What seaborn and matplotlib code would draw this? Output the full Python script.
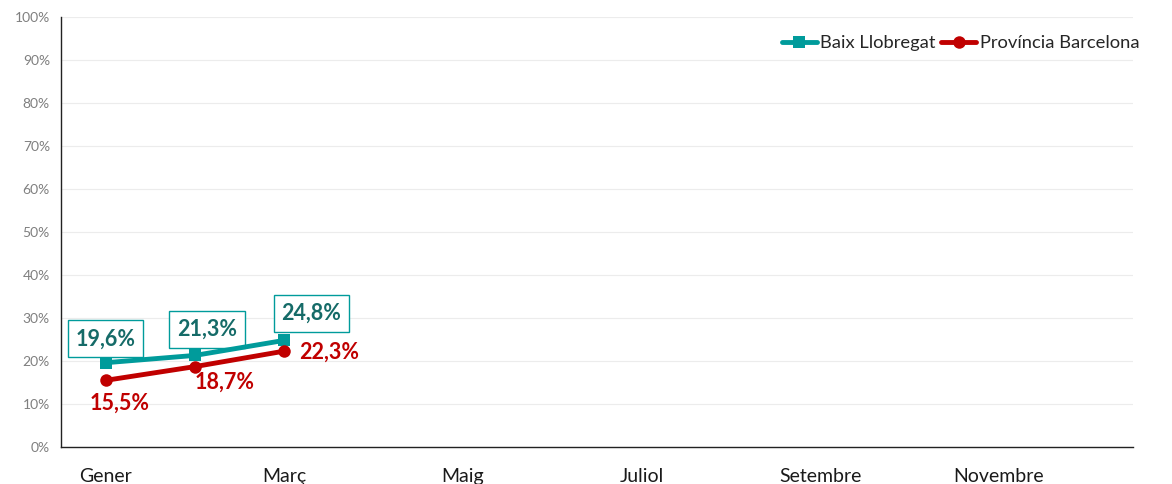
import numpy as np
import pandas as pd
import matplotlib.pyplot as plt
import seaborn as sns

#Data
mesos = ["Gener", "Febrer", "Març", "Abril", "Maig", "Juny", "Juliol",
         "Agost", "Setembre", "Octubre", "Novembre", "Desembre"]
series = ["Baix Llobregat", "Província Barcelona"]
baix = [19.6, 21.3, 24.8]
prov = [15.5, 18.7, 22.3]

sns.set_style("white")
plt.rcParams['font.family'] = ['Lato', 'DejaVu Sans']

df = pd.DataFrame({
    "mes": list(range(len(baix))) + list(range(len(prov))),
    "valor": baix + prov,
    "serie": [series[0]] * len(baix) + [series[1]] * len(prov),
})

teal = "#009B9B"
red = "#C00000"

fig = plt.figure(figsize=(11.72, 4.84), dpi=100)
ax = fig.add_axes([61 / 1172, 37 / 484, 1072 / 1172, 430 / 484])

sns.lineplot(data=df, x="mes", y="valor", hue="serie", style="serie",
             palette={series[0]: teal, series[1]: red},
             markers={series[0]: "s", series[1]: "o"}, dashes=False,
             linewidth=3.5, markersize=9, markeredgewidth=0, ax=ax)
#Markers on top of the label boxes
for line in ax.lines:
    line.set_zorder(5)

ax.set_xlim(-0.5, 11.5)
ax.set_ylim(0, 100)
ax.set_yticks(np.arange(0, 101, 10))
ax.set_yticklabels([f"{v}%" for v in range(0, 101, 10)], color="#7f7f7f", fontsize=10)
ax.set_xticks(range(0, 12, 2))
ax.set_xticklabels(mesos[::2], fontsize=14, color="#1a1a1a")
ax.tick_params(axis="x", length=0, pad=15)
ax.tick_params(axis="y", length=0, pad=8)
ax.set_xlabel("")
ax.set_ylabel("")
ax.grid(axis="y", color="#ececec", linewidth=0.8)
ax.set_axisbelow(True)
for s in ["top", "right"]:
    ax.spines[s].set_visible(False)
for s in ["left", "bottom"]:
    ax.spines[s].set_color("#222222")
    ax.spines[s].set_linewidth(1.0)

#Data labels
offs_b = [(0, 24), (12, 26), (27, 27)]
for i, v in enumerate(baix):
    ax.annotate(f"{v:.1f}%".replace(".", ","), (i, v), xytext=offs_b[i],
                textcoords="offset pixels", ha="center", va="center",
                fontsize=15.5, fontweight="bold", color="#156B68", zorder=3,
                bbox=dict(boxstyle="square,pad=0.36", fc="white", ec=teal, lw=1))
offs_p = [(14, -23), (30, -16), (45, -1)]
for i, v in enumerate(prov):
    ax.annotate(f"{v:.1f}%".replace(".", ","), (i, v), xytext=offs_p[i],
                textcoords="offset pixels", ha="center", va="center",
                fontsize=15.5, fontweight="bold", color=red, zorder=3)

ax.legend(loc="upper right", bbox_to_anchor=(1.013, 0.975), ncol=2, frameon=False,
          fontsize=13.2, handlelength=1.9, handletextpad=0.2, columnspacing=0.3,
          borderaxespad=0)

fig.savefig("out.png", dpi=100)
